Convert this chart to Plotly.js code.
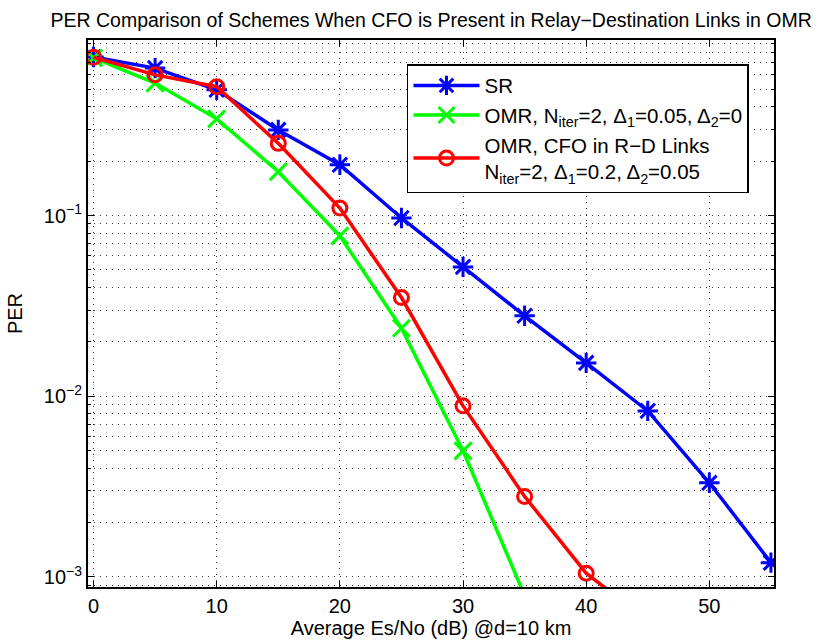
<!DOCTYPE html>
<html>
<head>
<meta charset="utf-8">
<script src="https://cdn.plot.ly/plotly-3.0.1.min.js"></script>
<style>html,body{margin:0;padding:0;background:#fff;}</style>
</head>
<body>
<div id="chart" style="width:826px;height:641px;"></div>
<script>
const snr = [0, 5, 10, 15, 20, 25, 30, 35, 40, 45, 50, 55];
const perSR = [0.754, 0.655, 0.497, 0.298, 0.191, 0.097, 0.052, 0.0279, 0.0153, 0.0083, 0.00332, 0.0012];
const snrOMR = [0, 5, 10, 15, 20, 25, 30, 35];
const perOMR = [0.745, 0.541, 0.343, 0.175, 0.0772, 0.0238, 0.00499, 0.00079];
const snrCFO = [0, 5, 10, 15, 20, 25, 30, 35, 40, 45];
const perCFO = [0.752, 0.601, 0.517, 0.251, 0.110, 0.0352, 0.00885, 0.00279, 0.00105, 0.00057];
const names = [
  'SR',
  'OMR, N<sub>iter</sub>=2, Δ<sub>1</sub>=0.05, Δ<sub>2</sub>=0',
  'OMR, CFO in R−D Links<br>N<sub>iter</sub>=2, Δ<sub>1</sub>=0.2, Δ<sub>2</sub>=0.05'
];
const xTicks = [0, 10, 20, 30, 40, 50];
const yTicks = [0.001, 0.01, 0.1];
const yTickText = ['10<sup>−3</sup>', '10<sup>−2</sup>', '10<sup>−1</sup>'];

const minorY = [];
[0.0001, 0.001, 0.01, 0.1].forEach(d => { for (let k = 2; k <= 9; k++) minorY.push(d * k); });

const font = '"Liberation Sans", Arial, Helvetica, sans-serif';
const traces = [
  {x: snr, y: perSR, name: names[0], mode: 'lines+markers',
   line: {color: '#0000ff', width: 3.5},
   marker: {symbol: 'asterisk-open', size: 17, line: {color: '#0000ff', width: 3}}},
  {x: snrOMR, y: perOMR, name: names[1], mode: 'lines+markers',
   line: {color: '#00ff00', width: 3.5},
   marker: {symbol: 'x-thin-open', size: 17, line: {color: '#00ff00', width: 3}}},
  {x: snrCFO, y: perCFO, name: names[2], mode: 'lines+markers',
   line: {color: '#ff0000', width: 3.5},
   marker: {symbol: 'circle-open', size: 14, line: {color: '#ff0000', width: 3}}}
];

const gridDash = '1px,5px';
const layout = {
  width: 826, height: 641,
  margin: {l: 88, r: 52, t: 40, b: 54},
  paper_bgcolor: '#fff', plot_bgcolor: '#fff',
  font: {family: font, size: 20, color: '#000'},
  title: {text: 'PER Comparison of Schemes When CFO is Present in Relay−Destination Links in OMR',
          font: {family: font, size: 19.5, color: '#000'}, x: 0.522, xanchor: 'center', y: 0.968, yanchor: 'middle'},
  showlegend: true,
  legend: {x: 0.465, y: 0.956, xanchor: 'left', yanchor: 'top',
           bgcolor: '#fff', bordercolor: '#000', borderwidth: 1.5,
           font: {family: font, size: 20.5, color: '#000'}, itemwidth: 66, tracegroupgap: 2},
  xaxis: {range: [-0.45, 55.25], tickvals: xTicks, ticktext: xTicks.map(String),
          showline: true, linecolor: '#000', linewidth: 2, mirror: 'ticks',
          ticks: 'inside', ticklen: 6, tickcolor: '#000', tickwidth: 1,
          showgrid: true, gridcolor: '#333', griddash: gridDash, gridwidth: 1,
          zeroline: false, tickfont: {size: 20},
          title: {text: 'Average Es/No (dB) @d=10 km', font: {size: 20}, standoff: 2}},
  yaxis: {type: 'log', range: [Math.log10(0.00088), Math.log10(0.937)],
          tickvals: yTicks, ticktext: yTickText,
          showline: true, linecolor: '#000', linewidth: 2, mirror: 'ticks',
          ticks: 'inside', ticklen: 6, tickcolor: '#000', tickwidth: 1,
          showgrid: true, gridcolor: '#333', griddash: gridDash, gridwidth: 1,
          zeroline: false, tickfont: {size: 20},
          minor: {tickvals: minorY, ticks: 'inside', ticklen: 3, tickcolor: '#000',
                  showgrid: true, gridcolor: '#333', griddash: gridDash, gridwidth: 1},
          title: {text: 'PER', font: {size: 20}, standoff: 16}}
};

Plotly.newPlot('chart', traces, layout, {displayModeBar: false, staticPlot: true});
</script>
</body>
</html>
